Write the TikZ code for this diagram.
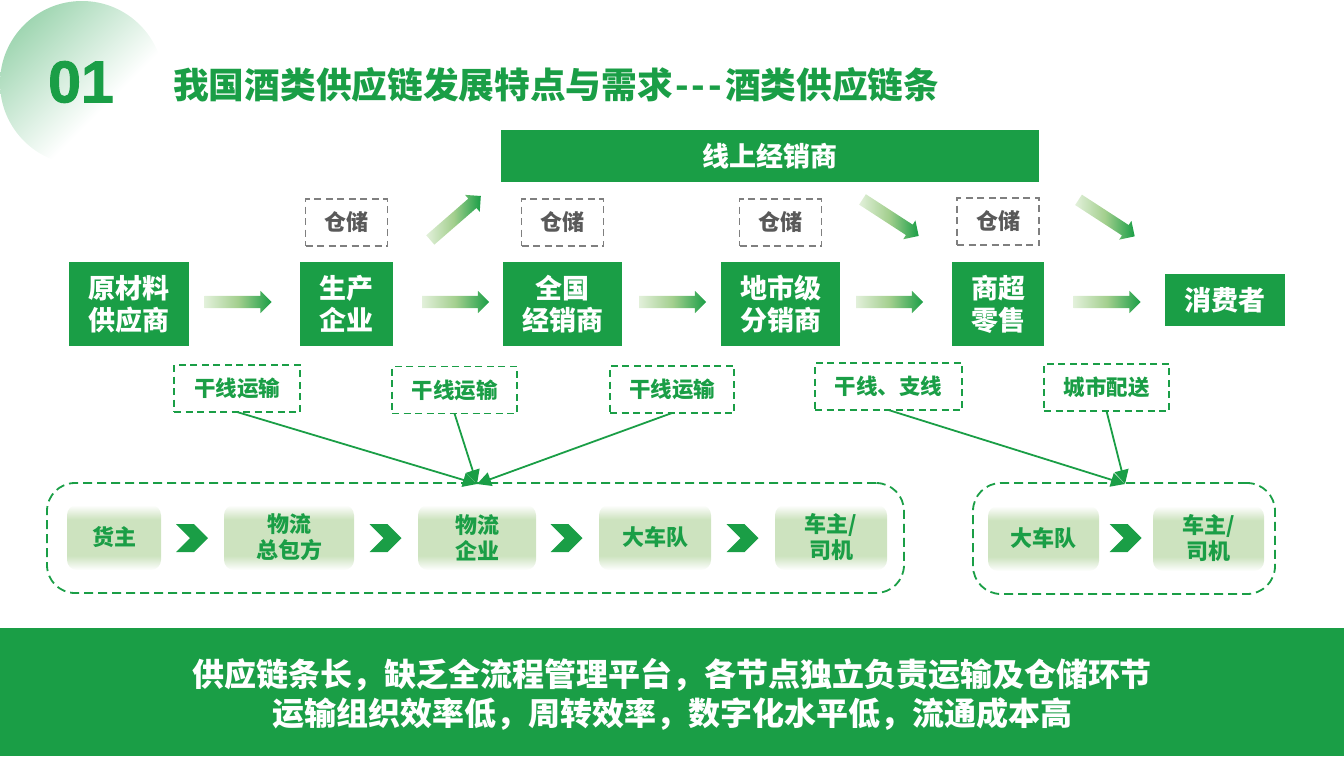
\documentclass[tikz,border=0pt]{standalone}
\usepackage{fontspec}
\setmainfont{Noto Sans CJK SC}
\newfontfamily\numfont{Liberation Sans}[BoldFeatures={FakeBold=1.6}]
\usetikzlibrary{positioning,arrows.meta,shapes.arrows,shapes.symbols}
\definecolor{leaf}{HTML}{1A9E46}
\definecolor{softleaf}{HTML}{CDE3BF}
\definecolor{paleflow}{HTML}{E2F0DA}
\definecolor{midflow}{HTML}{A3CF8E}
\definecolor{store}{HTML}{595959}
\definecolor{storeline}{HTML}{7F7F7F}
\definecolor{discleaf}{HTML}{A0D6B2}
\pgfdeclareverticalshading{softbar}{100bp}{color(0bp)=(white); color(25bp)=(white); color(36bp)=(softleaf); color(64bp)=(softleaf); color(75bp)=(white); color(100bp)=(white)}
\pgfdeclarehorizontalshading{softdisc}{100bp}{color(0bp)=(discleaf); color(25bp)=(discleaf); color(60bp)=(white); color(100bp)=(white)}
\tikzset{
  mainbox/.style={rectangle, fill=leaf, text=white, inner sep=0pt, outer sep=0pt, align=center,
                  font=\fontsize{27}{32}\selectfont\bfseries},
  storebox/.style={rectangle, draw=storeline, dash pattern=on 7pt off 4.5pt, line width=1.6pt, text=store, inner sep=0pt, outer sep=0pt,
                   minimum width=82pt, minimum height=47pt, font=\fontsize{22}{26}\selectfont\bfseries},
  haulbox/.style={rectangle, draw=leaf, dash pattern=on 7pt off 4.5pt, line width=1.8pt, text=leaf, inner sep=0pt, outer sep=0pt,
                  minimum height=47pt, font=\fontsize{21.5}{26}\selectfont\bfseries},
  groupbox/.style={rectangle, rounded corners=28pt, draw=leaf, dash pattern=on 9pt off 5pt, line width=1.8pt, inner sep=0pt, outer sep=0pt},
  stepbox/.style={rectangle, rounded corners=10pt, shading=softbar, text=leaf, inner sep=0pt, outer sep=0pt, align=center,
                  minimum height=65pt, font=\fontsize{22}{26}\selectfont\bfseries},
  flow/.style={single arrow, left color=paleflow, right color=leaf, middle color=midflow,
               single arrow head extend=5pt, single arrow tip angle=90, inner xsep=0pt, inner ysep=6pt, outer sep=0pt,
               minimum height=67pt},
  chev/.style={signal, signal to=east, signal from=west, signal pointer angle=90, fill=leaf, inner sep=0pt, outer sep=0pt,
               minimum width=32pt, minimum height=28pt},
  link/.style={-{Triangle[length=14pt,width=14pt]}, draw=leaf, line width=1.8pt},
}

\begin{document}
\begin{tikzpicture}[x=1pt, y=-1pt]
  \useasboundingbox (0,0) rectangle (1344,756);

  % title
  \shade[shading=softdisc, shading angle=-45] (82,83) circle (82);
  \node[text=leaf, font=\fontsize{59}{60}\selectfont\numfont\bfseries] (number) at (81,82) {01};
  \node[text=leaf, anchor=west, inner sep=0pt, font=\fontsize{35.7}{40}\selectfont\bfseries] (title) at (173,85) {我国酒类供应链发展特点与需求\kern2pt{-}\kern3pt{-}\kern3pt{-}\kern3pt酒类供应链条};

  % top band
  \node[mainbox, minimum width=538pt, minimum height=52pt] (online) at (770,156) {线上经销商};

  % chain
  \node[mainbox, minimum width=120pt, minimum height=84pt] (supplier) at (129,304) {原材料\\供应商};
  \node[mainbox, minimum width=93pt, minimum height=84pt] (factory) [right=111pt of supplier] {生产\\企业};
  \node[mainbox, minimum width=119pt, minimum height=84pt] (national) [right=110pt of factory] {全国\\经销商};
  \node[mainbox, minimum width=119pt, minimum height=84pt] (city) [right=99pt of national] {地市级\\分销商};
  \node[mainbox, minimum width=92pt, minimum height=84pt] (retail) [right=112pt of city] {商超\\零售};
  \node[mainbox, minimum width=120pt, minimum height=52pt] (consumer) [right=121pt of retail, yshift=4pt] {消费者};

  % storage
  \node[storebox] (store1) [above=16pt of factory] {仓储};
  \node[storebox] (store2) [above=16pt of national] {仓储};
  \node[storebox] (store3) [above=16pt of city] {仓储};
  \node[storebox] (store4) [above=17pt of retail] {仓储};

  % block arrows
  \node[flow] (flow1) at (235,302) {};
  \node[flow] (flow2) at (452.5,302) {};
  \node[flow] (flow3) at (669.5,302) {};
  \node[flow] (flow4) at (886.5,302) {};
  \node[flow] (flow5) at (1104,302) {};
  \node[flow, rotate=41] (flow6) at (453.2,220) {};
  \node[flow, rotate=-33] (flow7) at (888,216) {};
  \node[flow, rotate=-33] (flow8) at (1104,216.4) {};

  % transport
  \node[haulbox, minimum width=126pt] (haul1) at (237,388.5) {干线运输};
  \node[haulbox, minimum width=125pt] (haul2) at (454.5,390) {干线运输};
  \node[haulbox, minimum width=124pt] (haul3) at (672,389.5) {干线运输};
  \node[haulbox, minimum width=147pt] (haul4) at (888.5,386.5) {干线、支线};
  \node[haulbox, minimum width=125pt] (haul5) at (1106.5,387.5) {城市配送};

  % groups
  \node[groupbox, minimum width=857pt, minimum height=110pt] (groupA) at (475.5,538) {};
  \node[groupbox, minimum width=302pt, minimum height=111pt] (groupB) at (1124,538.5) {};

  \node[stepbox, minimum width=94pt] (owner) at (114,537.5) {货主};
  \node[stepbox, minimum width=130pt] (general) [right=63pt of owner] {物流\\总包方};
  \node[stepbox, minimum width=118pt] (firm) [right=64pt of general] {物流\\企业};
  \node[stepbox, minimum width=112pt] (fleet) [right=63pt of firm] {大车队};
  \node[stepbox, minimum width=112pt] (driver) [right=64pt of fleet] {车主/\\司机};
  \node[stepbox, minimum width=111pt] (fleetB) at (1043.5,538.5) {大车队};
  \node[stepbox, minimum width=111pt] (driverB) [right=54pt of fleetB] {车主/\\司机};

  \node[chev] (chev1) at (192,538) {};
  \node[chev] (chev2) at (385.5,538) {};
  \node[chev] (chev3) at (566.5,538) {};
  \node[chev] (chev4) at (742.5,538) {};
  \node[chev] (chev5) at (1125.5,538) {};

  % thin arrows
  \coordinate (hubA) at (477,484);
  \coordinate (hubB) at (1125,484);
  \draw[link] (haul1.south) -- (hubA);
  \draw[link] (haul2.south) -- (hubA);
  \draw[link] (haul3.south) -- (hubA);
  \draw[link] (haul4.south) -- (hubB);
  \draw[link] (haul5.south) -- (hubB);

  % bottom band
  \node[mainbox, minimum width=1344pt, minimum height=128pt] (summary) at (672,692) {};
  \node[text=white, align=center, inner sep=0pt, font=\fontsize{32}{39}\selectfont\bfseries] (summarytext) at (672,694.5)
    {供应链条长，缺乏全流程管理平台，各节点独立负责运输及仓储环节\\运输组织效率低，周转效率，数字化水平低，流通成本高};
\end{tikzpicture}
\end{document}
